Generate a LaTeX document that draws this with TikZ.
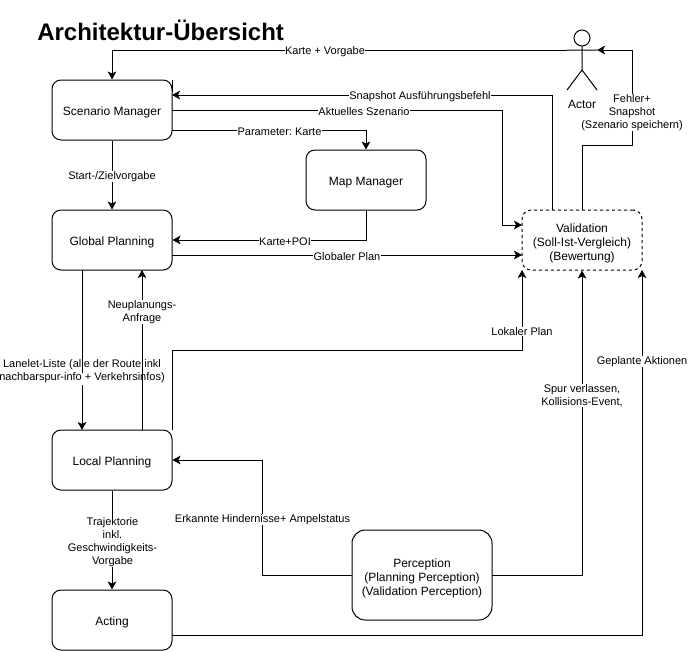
\documentclass[tikz,border=0pt]{standalone}
\usepackage{fontspec}
\setmainfont{Liberation Sans}
\frenchspacing
\usetikzlibrary{arrows.meta}
\newcommand{\firstline}{\rule{0pt}{11pt}}
\tikzset{
  x=0.75pt,y=-0.75pt,
  box/.style={draw=black,line width=0.75pt,rounded corners=6.75pt,fill=white,align=center,font=\fontsize{9}{10.5}\selectfont,inner sep=0pt},
  sbox/.style={box,execute at begin node={\rule{0pt}{9.5pt}}},
  conn/.style={draw=black,line width=0.75pt,-{Stealth[length=6pt,width=6.5pt,inset=1.5pt]}},
  plain/.style={draw=black,line width=0.75pt},
  lab/.style={fill=white,align=center,font=\fontsize{8.25}{9.75}\selectfont,inner sep=0.4pt,yshift=-1pt},
}
\begin{document}
\begin{tikzpicture}
\useasboundingbox (0,0) rectangle (688,651);
\fill[white] (0,0) rectangle (688,651);
\node[anchor=west,font=\bfseries\fontsize{18}{21}\selectfont,inner sep=0pt] (title) at (37,30) {Architektur-Übersicht};
% boxes
\node[sbox,minimum width=90pt,minimum height=45pt] (sm) at (112,110) {Scenario Manager};
\node[sbox,minimum width=90pt,minimum height=45pt] (gp) at (112,240) {Global Planning};
\node[sbox,minimum width=90pt,minimum height=45pt] (lp) at (112,460) {Local Planning};
\node[sbox,minimum width=90pt,minimum height=45pt] (ac) at (112,620) {Acting};
\node[sbox,minimum width=90pt,minimum height=45pt] (mm) at (366,180) {Map Manager};
\node[box,dash pattern=on 2.25pt off 2.25pt,minimum width=90pt,minimum height=45pt] (va) at (582,240) {\firstline Validation\\(Soll-Ist-Vergleich)\\(Bewertung)};
\node[box,rounded corners=10pt,minimum width=105pt,minimum height=67.5pt] (pe) at (422,575) {\firstline Perception\\(Planning Perception)\\(Validation Perception)};
\draw[plain] (172,80) -- (172,92);
% connectors
\coordinate (actorL) at (567,50);
\coordinate (actorR) at (597,50);
\draw[conn] (actorL) -- (112,50) -- (sm.north);
\node[lab] (l1) at (325,50) {Karte + Vorgabe};
\draw[conn] (552,210) -- (552,95) -- (172,95);
\node[lab] (l2) at (420,95) {Snapshot Ausführungsbefehl};
\draw[conn] (172,110) -- (502,110) -- (502,225) -- (522,225);
\node[lab] (l3) at (364,110) {Aktuelles Szenario};
\draw[conn] (172,130) -- (366,130) -- (mm.north);
\node[lab] (l4) at (279.5,130) {Parameter: Karte};
\draw[conn] (sm.south) -- (gp.north);
\node[lab] (l5) at (112,175) {Start-/Zielvorgabe};
\draw[conn] (mm.south) -- (366,240) -- (gp.east);
\node[lab] (l6) at (285,240) {Karte+POI};
\draw[conn] (172,255) -- (522,255);
\node[lab] (l7) at (347,255) {Globaler Plan};
\draw[conn] (va.north) -- (582,145) -- (632,145) -- (632,50) -- (actorR);
\node[lab] (l8) at (632,111) {Fehler+\\Snapshot\\(Szenario speichern)};
\draw[conn] (82,270) -- (82,430);
\fill[white] (79,373) rectangle (85,385);
\draw[conn] (142,430) -- (142,270);
\node[lab] (l9) at (142,310.5) {Neuplanungs-\\Anfrage};
\node[lab,fill=none] (l10) at (82,370) {Lanelet-Liste (alle der Route inkl\\nachbarspur-info + Verkehrsinfos)};
\draw[conn] (172,430) -- (172,350) -- (522,350) -- (522,270);
\node[lab] (l11) at (522,330) {Lokaler Plan};
\draw[conn] (492,575) -- (582,575) -- (va.south);
\node[lab] (l12) at (582,394) {Spur verlassen,\\Kollisions-Event,};
\draw[conn] (172,635) -- (642,635) -- (642,270);
\node[lab] (l13) at (642,360) {Geplante Aktionen};
\draw[conn] (352,575) -- (262,575) -- (262,460) -- (lp.east);
\node[lab] (l14) at (262.5,518) {Erkannte Hindernisse+ Ampelstatus};
\draw[conn] (lp.south) -- (ac.north);
\node[lab] (l15) at (112.5,540.5) {Trajektorie\\inkl.\\Geschwindigkeits-\\Vorgabe};
% actor
\draw[plain] (582,38) circle (6pt);
\draw[plain] (582,46) -- (582,70) (567,50) -- (597,50) (567,90) -- (582,70) -- (597,90);
\node[font=\fontsize{9}{10.5}\selectfont,inner sep=0pt] (actorlab) at (582,104) {Actor};
\end{tikzpicture}
\end{document}
